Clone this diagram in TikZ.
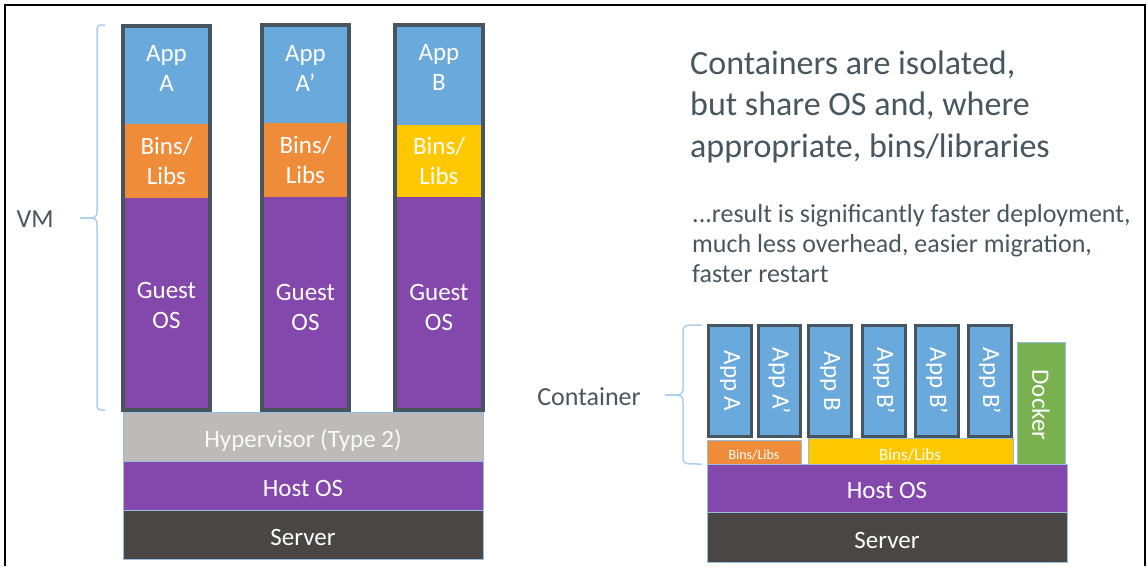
\documentclass[tikz,border=0pt]{standalone}
\usepackage{fontspec}
\setmainfont{Carlito}
\definecolor{appblue}{RGB}{106,169,219}
\definecolor{binorange}{RGB}{238,140,58}
\definecolor{binyellow}{RGB}{254,200,0}
\definecolor{ospurple}{RGB}{132,71,172}
\definecolor{hypgray}{RGB}{190,186,186}
\definecolor{srvgray}{RGB}{74,70,70}
\definecolor{dockgreen}{RGB}{121,177,80}
\definecolor{edgeslate}{RGB}{70,85,95}
\definecolor{thinblue}{RGB}{150,190,222}
\definecolor{bracecol}{RGB}{175,208,235}
\definecolor{txtslate}{RGB}{72,86,96}
\definecolor{hyptext}{RGB}{250,249,249}
\newcommand\seg[7][]{\node[segbox,fill=#7,minimum width={(#5-#3)*1pt},minimum height={(#6-#4)*1pt},#1] (#2) at ({(#3+#5)/2},{(#4+#6)/2}) {};}
\tikzset{
  segbox/.style={rectangle,inner sep=0pt,outer sep=0pt},
  stackedge/.style={draw=edgeslate,line width=4pt},
  appedge/.style={draw=edgeslate,line width=3.5pt},
  layer/.style={draw=thinblue,line width=1pt},
  lbl/.style={text=white,align=center,inner sep=0pt,font=\fontsize{25}{30}\selectfont},
  sidelbl/.style={text=txtslate,inner sep=0pt,font=\fontsize{26}{31}\selectfont},
  title/.style={text=txtslate,inner sep=0pt,anchor=base west,font=\fontsize{34}{41}\selectfont},
  sub/.style={text=txtslate,inner sep=0pt,anchor=base west,font=\fontsize{26}{30}\selectfont},
  bracestyle/.style={draw=bracecol,line width=1.5pt},
}
\begin{document}
\begin{tikzpicture}[x=1pt,y=-1pt]
\useasboundingbox (0,0) rectangle (1147,566);
% frame
\draw[line width=2.5pt] (5,566) -- (5,5) -- (1145,5) -- (1145,566);

% ---------- VM side ----------
\seg{s1app}{123}{26}{210}{124}{appblue}
\seg{s1bin}{123}{124}{210}{198}{binorange}
\seg{s1os}{123}{198}{210}{410}{ospurple}
\draw[stackedge] (s1app.north west) rectangle (s1os.south east);
\seg{s2app}{262}{25}{349}{123}{appblue}
\seg{s2bin}{262}{123}{349}{197}{binorange}
\seg{s2os}{262}{197}{349}{410}{ospurple}
\draw[stackedge] (s2app.north west) rectangle (s2os.south east);
\seg{s3app}{395}{25}{483}{125}{appblue}
\seg{s3bin}{395}{125}{483}{197}{binyellow}
\seg{s3os}{395}{197}{483}{410}{ospurple}
\draw[stackedge] (s3app.north west) rectangle (s3os.south east);

\seg[layer]{hyp}{123}{412}{483}{461}{hypgray}
\seg[layer]{hostL}{123}{461}{483}{510}{ospurple}
\seg[layer]{srvL}{123}{510}{483}{559}{srvgray}

\node[lbl] (t1a) at (166.5,68) {App\\A};
\node[lbl] (t2a) at (305.5,68) {App\\A’};
\node[lbl] (t3a) at (439,67) {App\\B};
\node[lbl] (t1b) at (166.5,161) {Bins/\\Libs};
\node[lbl] (t2b) at (305.5,160) {Bins/\\Libs};
\node[lbl] (t3b) at (439,161) {Bins/\\Libs};
\node[lbl] (t1c) at (166.5,305) {Guest\\OS};
\node[lbl] (t2c) at (305.5,307) {Guest\\OS};
\node[lbl] (t3c) at (439,307) {Guest\\OS};
\node[lbl,text=hyptext] (thyp) at ([yshift=-4pt]hyp) {Hypervisor (Type 2)};
\node[lbl] (thostL) at ([yshift=-3pt]hostL) {Host OS};
\node[lbl] (tsrvL) at ([yshift=-3pt]srvL) {Server};

% VM brace
\coordinate (vmtip) at (80,218);
\draw[bracestyle] (105,25) .. controls (97,25) .. (97,33) -- (97,210) .. controls (97,218) .. (vmtip);
\draw[bracestyle] (vmtip) .. controls (97,218) .. (97,226) -- (97,402) .. controls (97,410) .. (105,410);
\node[sidelbl] (vm) at (35,219) {VM};

% ---------- Container side ----------
\node[title] (ti1) at (690,74) {Containers are isolated,};
\node[title] (ti2) at (690,115) {but share OS and, where};
\node[title] (ti3) at (690,157) {appropriate, bins/libraries};
\node[sub] (su1) at (692,222) {...result is significantly faster deployment,};
\node[sub] (su2) at (692,252) {much less overhead, easier migration,};
\node[sub] (su3) at (692,282) {faster restart};

\seg[layer]{binO}{707}{440}{801}{464}{binorange}
\seg[layer]{binY}{808}{438}{1013}{466}{binyellow}
\seg[appedge]{cA}{708.5}{325.5}{751.5}{436.5}{appblue}
\seg[appedge]{cA2}{758.5}{325.5}{800.5}{436.5}{appblue}
\seg[appedge]{cB}{808.5}{325.5}{851.5}{436.5}{appblue}
\seg[appedge]{cB1}{862.5}{325.5}{905.5}{436.5}{appblue}
\seg[appedge]{cB2}{915.5}{325.5}{958.5}{436.5}{appblue}
\seg[appedge]{cB3}{968.5}{325.5}{1011.5}{436.5}{appblue}
\seg[layer]{dock}{1017}{342}{1065}{464}{dockgreen}
\seg[layer]{hostR}{707}{464}{1067}{512}{ospurple}
\seg[layer]{srvR}{707}{512}{1067}{562}{srvgray}

\node[lbl,rotate=-90] (tcA) at (cA) {App A};
\node[lbl,rotate=-90] (tcA2) at (cA2) {App A’};
\node[lbl,rotate=-90] (tcB) at (cB) {App B};
\node[lbl,rotate=-90] (tcB1) at (cB1) {App B’};
\node[lbl,rotate=-90] (tcB2) at (cB2) {App B’};
\node[lbl,rotate=-90] (tcB3) at (cB3) {App B’};
\node[lbl,rotate=-90] (tdock) at ([yshift=-2pt]dock) {Docker};
\node[lbl,font=\fontsize{14}{16}\selectfont] (tbinO) at (754,455) {Bins/Libs};
\node[lbl,font=\fontsize{17}{19}\selectfont] (tbinY) at (910,455) {Bins/Libs};
\node[lbl] (thostR) at ([yshift=-2pt]hostR) {Host OS};
\node[lbl] (tsrvR) at ([yshift=-3pt]srvR) {Server};

% Container brace
\coordinate (ctip) at (665,395);
\draw[bracestyle] (702,325) .. controls (683,325) .. (683,333) -- (683,387) .. controls (683,395) .. (ctip);
\draw[bracestyle] (ctip) .. controls (683,395) .. (683,403) -- (683,456) .. controls (683,464) .. (702,464);
\node[sidelbl] (cont) at (589,397) {Container};
\end{tikzpicture}
\end{document}
